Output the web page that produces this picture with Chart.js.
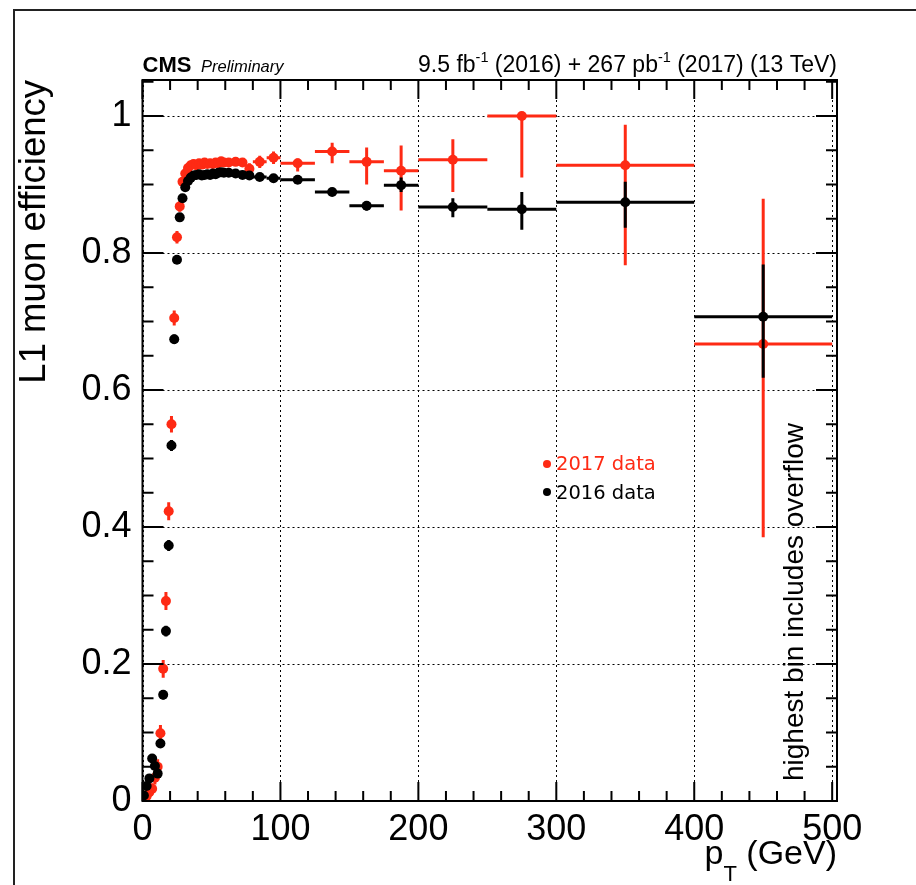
<!DOCTYPE html>
<html><head><meta charset="utf-8">
<script src="https://cdn.jsdelivr.net/npm/chart.js@4/dist/chart.umd.min.js"></script>
<style>html,body{margin:0;padding:0;background:#fff;}#wrap{width:916px;height:885px;position:relative;}</style>
</head><body><div id="wrap"><canvas id="c" width="916" height="885"></canvas></div>
<script>
// ---- data ----
const binCenters = [1,3,5,7,9,11,13,15,17,19,21,23,25,27,29,31,33,35,37,39,41,43,45,47,49,51,53,55,57,59,62.5,67.5,72.5,77.5,85,95,112.5,137.5,162.5,187.5,225,275,350,450];
const binHalfWidths = [1,1,1,1,1,1,1,1,1,1,1,1,1,1,1,1,1,1,1,1,1,1,1,1,1,1,1,1,1,1,2.5,2.5,2.5,2.5,5,5,12.5,12.5,12.5,12.5,25,25,50,50];
const eff2016 = [0.008,0.022,0.033,0.062,0.051,0.040,0.084,0.155,0.248,0.373,0.519,0.674,0.790,0.852,0.880,0.896,0.905,0.910,0.913,0.914,0.915,0.913,0.914,0.915,0.914,0.916,0.915,0.917,0.918,0.917,0.917,0.916,0.914,0.913,0.911,0.909,0.907,0.889,0.869,0.899,0.867,0.864,0.874,0.707];
const err2016Low = [0.003,0.004,0.005,0.006,0.006,0.005,0.006,0.007,0.008,0.008,0.008,0.007,0.006,0.005,0.004,0.003,0.003,0.003,0.003,0.003,0.003,0.003,0.003,0.003,0.003,0.003,0.003,0.003,0.003,0.003,0.003,0.003,0.003,0.003,0.003,0.003,0.003,0.004,0.007,0.010,0.015,0.030,0.037,0.089];
const err2016High = [0.003,0.004,0.005,0.006,0.006,0.005,0.006,0.007,0.008,0.008,0.008,0.007,0.006,0.005,0.004,0.003,0.003,0.003,0.003,0.003,0.003,0.003,0.003,0.003,0.003,0.003,0.003,0.003,0.003,0.003,0.003,0.003,0.003,0.003,0.003,0.003,0.003,0.004,0.007,0.011,0.013,0.025,0.030,0.076];
const eff2017 = [0.003,0.007,0.013,0.018,0.034,0.050,0.099,0.193,0.292,0.423,0.550,0.705,0.823,0.868,0.904,0.916,0.924,0.928,0.930,0.928,0.931,0.929,0.932,0.930,0.931,0.930,0.932,0.931,0.934,0.932,0.932,0.933,0.932,0.923,0.933,0.939,0.931,0.948,0.933,0.920,0.936,1.000,0.928,0.667];
const err2017Low = [0.004,0.005,0.007,0.008,0.010,0.011,0.012,0.013,0.013,0.013,0.012,0.011,0.009,0.008,0.007,0.006,0.006,0.006,0.006,0.006,0.006,0.006,0.006,0.006,0.006,0.006,0.006,0.006,0.006,0.006,0.006,0.006,0.006,0.008,0.009,0.009,0.012,0.017,0.033,0.058,0.047,0.090,0.146,0.282];
const err2017High = [0.004,0.005,0.007,0.008,0.010,0.011,0.012,0.013,0.013,0.013,0.012,0.011,0.009,0.008,0.007,0.006,0.006,0.006,0.006,0.006,0.006,0.006,0.006,0.006,0.006,0.006,0.006,0.006,0.006,0.006,0.006,0.006,0.006,0.008,0.009,0.009,0.007,0.013,0.021,0.037,0.030,0.000,0.059,0.212];
const xTickValues = [0,100,200,300,400,500];
const yTickValues = [0,0.2,0.4,0.6,0.8,1];
const xMinorStep = 20;
const yMinorStep = 0.05;
const seriesLabels = ['2016 data','2017 data'];
const yTitle = 'L1 muon efficiency';
const note = 'highest bin includes overflow';

const RED = '#fe2a14';
const BLACK = '#000000';
const ROOTFONT = '"Liberation Sans", Arial, sans-serif';
const TICKFONT = '"Liberation Sans Narrow", "Liberation Sans", Arial, sans-serif';

function pts(eff, lo, hi){
  return binCenters.map((x,i)=>({x:x, y:eff[i], xw:binHalfWidths[i], el:lo[i], eh:hi[i]}));
}

const errorBars = {
  id:'errorBars',
  beforeDatasetDraw(chart, args){
    const ds = chart.data.datasets[args.index];
    const xs = chart.scales.x, ys = chart.scales.y, ctx = chart.ctx, a = chart.chartArea;
    ctx.save();
    ctx.beginPath(); ctx.rect(a.left, a.top, a.right-a.left, a.bottom-a.top); ctx.clip();
    ctx.strokeStyle = ds.backgroundColor; ctx.lineWidth = 3; ctx.lineCap = 'butt';
    ds.data.forEach(p=>{
      const px = xs.getPixelForValue(p.x), py = ys.getPixelForValue(p.y);
      ctx.beginPath();
      ctx.moveTo(xs.getPixelForValue(p.x-p.xw), py); ctx.lineTo(xs.getPixelForValue(p.x+p.xw), py);
      if (p.el+p.eh > 0){
        ctx.moveTo(px, ys.getPixelForValue(p.y-p.el)); ctx.lineTo(px, ys.getPixelForValue(p.y+p.eh));
      }
      ctx.stroke();
    });
    ctx.restore();
  }
};

const decorations = {
  id:'decorations',
  beforeDatasetsDraw(chart){
    const xs = chart.scales.x, ys = chart.scales.y, ctx = chart.ctx, a = chart.chartArea;
    ctx.save();
    ctx.strokeStyle = '#000'; ctx.lineWidth = 1; ctx.setLineDash([2,3]);
    xTickValues.forEach(v=>{ const p = Math.round(xs.getPixelForValue(v))+0.5; ctx.beginPath(); ctx.moveTo(p,a.top); ctx.lineTo(p,a.bottom); ctx.stroke(); });
    yTickValues.forEach(v=>{ const p = Math.round(ys.getPixelForValue(v))+0.5; ctx.beginPath(); ctx.moveTo(a.left,p); ctx.lineTo(a.right,p); ctx.stroke(); });
    ctx.restore();
  },
  afterDraw(chart){
    const xs = chart.scales.x, ys = chart.scales.y, ctx = chart.ctx, a = chart.chartArea;
    ctx.save();
    ctx.strokeStyle = '#222'; ctx.lineWidth = 2;
    ctx.strokeRect(14, 10, 1000, 1000);
    ctx.strokeStyle = '#000'; ctx.lineWidth = 2;
    ctx.strokeRect(a.left, a.top, a.right-a.left, a.bottom-a.top);
    ctx.lineWidth = 2;
    const isMajor = (v, list)=> list.some(t=>Math.abs(t-v)<1e-6);
    for (let v=0; v<=xs.max+1e-6; v+=xMinorStep){
      const p = xs.getPixelForValue(v);
      const L = isMajor(v, xTickValues) ? 19 : 10;
      ctx.beginPath(); ctx.moveTo(p,a.bottom); ctx.lineTo(p,a.bottom-L); ctx.moveTo(p,a.top); ctx.lineTo(p,a.top+L); ctx.stroke();
    }
    for (let k=0; k*yMinorStep<=ys.max+1e-6; k++){
      const v = k*yMinorStep;
      const p = ys.getPixelForValue(v);
      const L = isMajor(v, yTickValues) ? 21 : 11;
      ctx.beginPath(); ctx.moveTo(a.left,p); ctx.lineTo(a.left+L,p); ctx.moveTo(a.right,p); ctx.lineTo(a.right-L,p); ctx.stroke();
    }
    ctx.fillStyle = '#000'; ctx.textBaseline = 'alphabetic'; ctx.textAlign = 'left';
    ctx.font = 'bold 22px ' + ROOTFONT; ctx.fillText('CMS', a.left, 72);
    ctx.font = 'italic 16.5px ' + ROOTFONT; ctx.fillText('Preliminary', 201, 72);
    const parts = [['9.5 fb',0],['-1',1],[' (2016) + 267 pb',0],['-1',1],[' (2017) (13 TeV)',0]];
    const measure = (t,s)=>{ ctx.font = (s? '14.5px ':'23px ') + ROOTFONT; return ctx.measureText(t).width; };
    let tot = parts.reduce((w,p)=>w+measure(p[0],p[1]),0);
    let x = a.right - tot;
    parts.forEach(p=>{ const w = measure(p[0],p[1]); ctx.fillText(p[0], x, p[1]? 62 : 72); x += w; });
    const xt = [['p',0],['T',1],[' (GeV)',0]];
    const m2 = (t,s)=>{ ctx.font = (s? '22px ':'34px ') + ROOTFONT; return ctx.measureText(t).width; };
    tot = xt.reduce((w,p)=>w+m2(p[0],p[1]),0);
    x = a.right - tot;
    xt.forEach(p=>{ const w = m2(p[0],p[1]); ctx.fillText(p[0], x, p[1]? 881 : 864); x += w; });
    const leg = [[seriesLabels[1], RED, 464, 470],[seriesLabels[0], BLACK, 492, 499]];
    leg.forEach(l=>{
      ctx.fillStyle = l[1]; ctx.beginPath(); ctx.arc(547, l[2], 4, 0, Math.PI*2); ctx.fill();
      ctx.font = '19.5px "DejaVu Sans", sans-serif'; ctx.fillText(l[0], 556, l[3]);
    });
    ctx.fillStyle = '#000';
    ctx.translate(803, 602); ctx.rotate(-Math.PI/2);
    ctx.font = '28px ' + ROOTFONT; ctx.textAlign = 'center';
    ctx.fillText(note, 0, 0);
    ctx.restore();
  }
};

new Chart(document.getElementById('c'), {
  type:'scatter',
  data:{ datasets:[
    { label:seriesLabels[0], data:pts(eff2016, err2016Low, err2016High), backgroundColor:BLACK, borderColor:BLACK, pointRadius:5, pointHoverRadius:5, pointBorderWidth:0, showLine:false },
    { label:seriesLabels[1], data:pts(eff2017, err2017Low, err2017High), backgroundColor:RED, borderColor:RED, pointRadius:5, pointHoverRadius:5, pointBorderWidth:0, showLine:false }
  ]},
  options:{
    responsive:false, animation:false, devicePixelRatio:1,
    layout:{padding:{left:0, top:80, right:79, bottom:0}},
    plugins:{ legend:{display:false}, tooltip:{enabled:false} },
    scales:{
      x:{ type:'linear', min:0, max:503.5,
          afterBuildTicks:s=>{ s.ticks = xTickValues.map(v=>({value:v})); },
          afterFit:s=>{ s.height = 84; },
          grid:{display:false, drawTicks:false}, border:{display:false},
          ticks:{ padding:7, color:'#000', autoSkip:false, maxRotation:0, font:{family:TICKFONT, size:36}, callback:v=>String(v) } },
      y:{ type:'linear', min:0, max:1.0525,
          afterBuildTicks:s=>{ s.ticks = yTickValues.map(v=>({value:v})); },
          afterFit:s=>{ s.width = 142.5; },
          grid:{display:false, drawTicks:false}, border:{display:false},
          title:{ display:true, text:yTitle, align:'end', color:'#000', font:{family:ROOTFONT, size:36.5}, padding:{top:13, bottom:0} },
          ticks:{ padding:11, color:'#000', font:{family:TICKFONT, size:36}, callback:v=>String(v) } }
    }
  },
  plugins:[errorBars, decorations]
});
</script></body></html>
